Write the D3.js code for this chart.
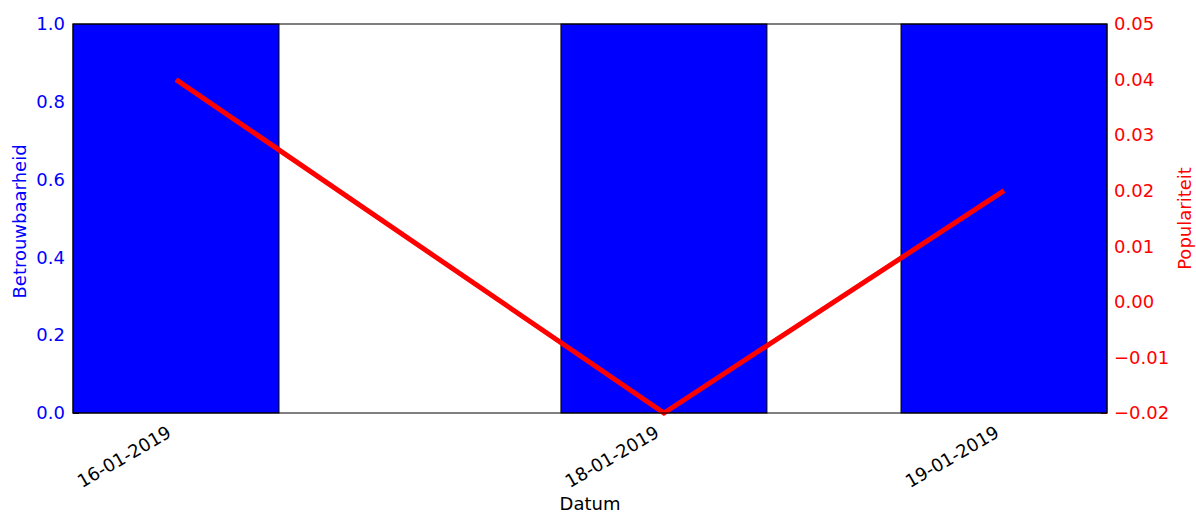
<!DOCTYPE html>
<html>
<head>
<meta charset="utf-8">
<script src="https://cdn.jsdelivr.net/npm/d3@7"></script>
<style>
  body { margin: 0; background: #fff; }
  text { font-family: "DejaVu Sans", sans-serif; }
</style>
</head>
<body>
<div id="chart-area"></div>
<script>
// data
var dates = ["2019-01-16T12:00", "2019-01-18T09:29", "2019-01-19T17:11"];
var betrouwbaarheid = [1, 1, 1];
var populariteit = [0.04, -0.02, 0.02];
var leftTicks = [0, 0.2, 0.4, 0.6, 0.8, 1.0];
var rightTicks = [-0.02, -0.01, 0, 0.01, 0.02, 0.03, 0.04, 0.05];

var parse = d3.timeParse("%Y-%m-%dT%H:%M");
var data = dates.map((d, i) => ({ date: parse(d), b: betrouwbaarheid[i], p: populariteit[i] }));

var margin = { top: 24, right: 89, bottom: 102, left: 73 };
var width = 1196 - margin.left - margin.right;
var height = 515 - margin.top - margin.bottom;
var barDays = 0.8;
var dayMs = 864e5;
var fs = "18px";

var svg = d3.select("#chart-area")
    .append("svg")
    .attr("width", 1196)
    .attr("height", 515);

var g = svg.append("g")
    .attr("transform", "translate(" + margin.left + "," + margin.top + ")");

var x = d3.scaleTime()
    .domain([new Date(+data[0].date - barDays / 2 * dayMs), new Date(+data[2].date + barDays / 2 * dayMs)])
    .range([0, width]);
var yL = d3.scaleLinear().domain([0, 1]).range([height, 0]);
var yR = d3.scaleLinear().domain([-0.02, 0.05]).range([height, 0]);

// left axis (ticks point inward, bars cover them)
var leftAxis = g.append("g")
    .call(d3.axisLeft(yL).tickValues(leftTicks).tickFormat(d3.format(".1f")).tickSizeInner(-6).tickSizeOuter(0).tickPadding(8));
leftAxis.select(".domain").remove();
leftAxis.selectAll("line").attr("stroke", "#000");
leftAxis.selectAll("text").attr("fill", "#0000ff").style("font-size", fs);

// right axis
var rightAxis = g.append("g")
    .attr("transform", "translate(" + width + ",0)")
    .call(d3.axisRight(yR).tickValues(rightTicks).tickFormat(d3.format(".2f")).tickSizeInner(-6).tickSizeOuter(0).tickPadding(7));
rightAxis.select(".domain").remove();
rightAxis.selectAll("line").attr("stroke", "#ff0000");
rightAxis.selectAll("text").attr("fill", "#ff0000").style("font-size", fs)
    .text(d => d3.format(".2f")(d).replace("-", "\u2212"));

// bottom axis
var bottomAxis = g.append("g")
    .attr("transform", "translate(0," + height + ")")
    .call(d3.axisBottom(x).tickValues(data.map(d => d.date)).tickFormat(d3.timeFormat("%d-%m-%Y")).tickSizeInner(-6).tickSizeOuter(0));
bottomAxis.select(".domain").remove();
bottomAxis.selectAll("line").attr("stroke", "#000");
bottomAxis.selectAll("text")
    .attr("fill", "#000")
    .style("font-size", fs)
    .attr("text-anchor", "end")
    .attr("y", 0)
    .attr("dy", 0)
    .attr("transform", "translate(-4,23) rotate(-30)");

// bars
g.selectAll("rect.bar").data(data).enter().append("rect")
    .attr("class", "bar")
    .attr("x", d => x(new Date(+d.date - barDays / 2 * dayMs)))
    .attr("y", d => yL(d.b))
    .attr("width", d => x(new Date(+d.date + barDays / 2 * dayMs)) - x(new Date(+d.date - barDays / 2 * dayMs)))
    .attr("height", d => height - yL(d.b))
    .attr("fill", "#0000ff")
    .attr("stroke", "#000")
    .attr("stroke-width", 1);

// line
var line = d3.line().x(d => x(d.date)).y(d => yR(d.p));
g.append("path")
    .datum(data)
    .attr("d", line)
    .attr("fill", "none")
    .attr("stroke", "#ff0000")
    .attr("stroke-width", 5);

// frame
g.append("rect")
    .attr("width", width).attr("height", height)
    .attr("fill", "none").attr("stroke", "#000").attr("stroke-width", 1);

// axis labels
g.append("text")
    .attr("x", width / 2)
    .attr("y", height + 97)
    .attr("text-anchor", "middle")
    .style("font-size", fs)
    .attr("fill", "#000")
    .text("Datum");

g.append("text")
    .attr("transform", "rotate(-90)")
    .attr("x", -height / 2 - 3)
    .attr("y", -47)
    .attr("text-anchor", "middle")
    .style("font-size", fs)
    .attr("fill", "#0000ff")
    .text("Betrouwbaarheid");

g.append("text")
    .attr("transform", "rotate(-90)")
    .attr("x", -height / 2)
    .attr("y", width + 84)
    .attr("text-anchor", "middle")
    .style("font-size", fs)
    .attr("fill", "#ff0000")
    .text("Populariteit");
</script>
</body>
</html>
